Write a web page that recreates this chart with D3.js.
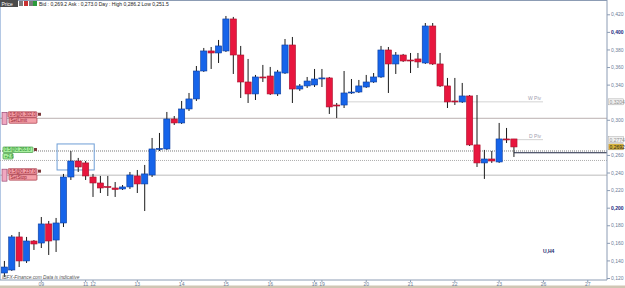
<!DOCTYPE html>
<html>
<head>
<meta charset="utf-8">
<script src="https://cdn.jsdelivr.net/npm/d3@7"></script>
<style>
  html, body { margin: 0; padding: 0; background: #fff; }
  svg { display: block; font-family: "Liberation Sans", Arial, sans-serif; }
</style>
</head>
<body>
<svg id="chart" width="625" height="288"></svg>
<script>
// H4 candles, one per index (prices)
const opens = [0.1257,0.1291,0.1667,0.1394,0.1621,0.1598,0.1815,0.1632,0.1826,0.2349,
  0.2531,0.2509,0.2349,0.2281,0.2241,0.2224,0.2213,0.2236,0.2361,0.2270,
  0.2372,0.2662,0.2668,0.3009,0.2964,0.3123,0.3237,0.3555,0.3783,0.3760,
  0.3783,0.4147,0.3737,0.3430,0.3294,0.3487,0.3498,0.3294,0.3532,0.3851,
  0.3350,0.3385,0.3396,0.3470,0.3476,0.3168,0.3168,0.3311,0.3316,0.3373,
  0.3430,0.3487,0.3794,0.3635,0.3737,0.3680,0.3692,0.3646,0.4067,0.3635,
  0.3385,0.3214,0.3203,0.3271,0.2714,0.2509,0.2554,0.2520,0.2782,0.2782];
const highs = [0.1394,0.1689,0.1724,0.1667,0.1632,0.1894,0.1849,0.1883,0.2384,0.2645,
  0.2566,0.2531,0.2384,0.2361,0.2361,0.2292,0.2258,0.2406,0.2429,0.2486,
  0.2793,0.2850,0.3089,0.3043,0.3214,0.3305,0.3612,0.3817,0.3828,0.3908,
  0.4181,0.4170,0.3840,0.3692,0.3510,0.3624,0.3601,0.3567,0.3919,0.3942,
  0.3407,0.3487,0.3578,0.3578,0.3487,0.3191,0.3555,0.3464,0.3453,0.3510,
  0.3532,0.3840,0.3828,0.3771,0.3749,0.3760,0.3760,0.4101,0.4101,0.3760,
  0.3476,0.3476,0.3419,0.3282,0.3282,0.2657,0.2645,0.2964,0.2907,0.2782];
const lows = [0.1212,0.1280,0.1325,0.1371,0.1519,0.1541,0.1462,0.1496,0.1780,0.2315,
  0.2406,0.2315,0.2122,0.2167,0.2133,0.2122,0.2201,0.2213,0.2167,0.1962,
  0.2349,0.2645,0.2657,0.2941,0.2952,0.3100,0.3214,0.3544,0.3578,0.3646,
  0.3771,0.3521,0.3248,0.3191,0.3225,0.3430,0.3282,0.3271,0.3521,0.3191,
  0.3328,0.3362,0.3373,0.3373,0.3066,0.3020,0.3134,0.3294,0.3305,0.3362,
  0.3419,0.3476,0.3305,0.3521,0.3658,0.3532,0.3590,0.3635,0.3624,0.3373,
  0.3134,0.3168,0.3191,0.2702,0.2463,0.2327,0.2509,0.2509,0.2736,0.2577];
const closes = [0.1325,0.1667,0.1394,0.1621,0.1587,0.1815,0.1621,0.1826,0.2349,0.2531,
  0.2463,0.2361,0.2281,0.2224,0.2230,0.2207,0.2236,0.2372,0.2270,0.2384,
  0.2668,0.2674,0.3009,0.2964,0.3123,0.3237,0.3555,0.3783,0.3760,0.3840,
  0.4147,0.3737,0.3430,0.3294,0.3487,0.3481,0.3294,0.3544,0.3851,0.3350,
  0.3385,0.3441,0.3464,0.3476,0.3146,0.3163,0.3305,0.3316,0.3385,0.3430,
  0.3487,0.3794,0.3635,0.3737,0.3669,0.3675,0.3658,0.4067,0.3635,0.3385,
  0.3203,0.3203,0.3271,0.2714,0.2509,0.2554,0.2531,0.2782,0.2776,0.2691];

// date ticks (candle index where each day starts)
const dayLabels = ["09","11","12","13","14","15","16","18","19","20","21","22","23","26","27"];
const dayIndex = [5,11,12,18,24,30,36,42,43,49,55,61,67,73,79];
// 0,320 and 0,280 sit under the pivot boxes, so they are not printed
const priceTicks = [0.42,0.40,0.38,0.36,0.34,0.30,0.26,0.24,0.22,0.20,0.18,0.16,0.14,0.12];

// order levels and pivots
const orderLabels = ["0.5@0,302.0", "0.5@0,263.0", "0.5@0,237.0"];
const orderPrices = [0.3017, 0.2645, 0.2370];
const orderTags = ["SetLimit", "+2.6", "SetStop"];
const pivotNames = ["W Piv", "D Piv"];
const pivotPrices = [0.3204, 0.2774];
const pivotStart = [45.5, 66.5];
const bid = 0.2692;
const lastLine = 0.2625;

const W = 625, H = 288;
const plotRight = 607, plotBottom = 280;
const nSlots = 82;

const svg = d3.select("#chart");

const x = d3.scaleBand()
  .domain(d3.range(nSlots))
  .range([1.3, 1.3 + nSlots * 7.37])
  .paddingInner(0.16);
const y = d3.scaleLinear().domain([0.12, 0.42]).range([278, 14.3]);
const cx = i => x(i) + x.bandwidth() / 2;
const xi = v => 5 + v * x.step(); // fractional index -> px

// frame
svg.append("rect").attr("width", W).attr("height", H).attr("fill", "#fff");
svg.append("line").attr("x1", 0).attr("x2", plotRight).attr("y1", 0.5).attr("y2", 0.5)
  .attr("stroke", "#8c9cb4");
svg.append("line").attr("x1", 0.5).attr("x2", 0.5).attr("y1", 0).attr("y2", plotBottom)
  .attr("stroke", "#b4c8e4");
svg.append("rect").attr("x", 0).attr("y", 285.5).attr("width", W).attr("height", 2.5)
  .attr("fill", "#cfc6b4");

// horizontal levels
const lvl = svg.append("g");
lvl.append("line").attr("x1", 0).attr("x2", plotRight)
  .attr("y1", y(orderPrices[0])).attr("y2", y(orderPrices[0]))
  .attr("stroke", "#a89c9c").attr("stroke-width", 0.8);
lvl.append("line").attr("x1", 0).attr("x2", plotRight)
  .attr("y1", y(orderPrices[1])).attr("y2", y(orderPrices[1]))
  .attr("stroke", "#555").attr("stroke-width", 0.8).attr("stroke-dasharray", "1,1");
lvl.append("line").attr("x1", 0).attr("x2", plotRight)
  .attr("y1", y(0.2537)).attr("y2", y(0.2537))
  .attr("stroke", "#999").attr("stroke-width", 0.8).attr("stroke-dasharray", "1,1");
lvl.append("line").attr("x1", 0).attr("x2", plotRight)
  .attr("y1", y(orderPrices[2])).attr("y2", y(orderPrices[2]))
  .attr("stroke", "#aaa").attr("stroke-width", 0.8);

pivotPrices.forEach((p, k) => {
  lvl.append("line").attr("x1", xi(pivotStart[k])).attr("x2", 543)
    .attr("y1", y(p)).attr("y2", y(p)).attr("stroke", "#c8c8c8").attr("stroke-width", 0.8);
  lvl.append("text").attr("x", 541).attr("y", y(p) - 1.5).attr("text-anchor", "end")
    .attr("font-size", 5).attr("fill", "#a0a0b0").text(pivotNames[k]);
});

// blue box
svg.append("rect").attr("x", xi(7.05)).attr("y", y(0.2725))
  .attr("width", xi(12.08) - xi(7.05)).attr("height", y(0.2429) - y(0.2725))
  .attr("fill", "none").attr("stroke", "#6e9ed6").attr("stroke-width", 1);

// candles
const candles = d3.range(opens.length).map(i => ({
  i, o: opens[i], h: highs[i], l: lows[i], c: closes[i]
}));
const cg = svg.append("g");
cg.selectAll(".wick").data(candles).enter().append("line")
  .attr("x1", d => cx(d.i)).attr("x2", d => cx(d.i))
  .attr("y1", d => y(d.h)).attr("y2", d => y(d.l))
  .attr("stroke", "#1a1a1a").attr("stroke-width", 1);
cg.selectAll(".body").data(candles).enter().append("rect")
  .attr("x", d => x(d.i))
  .attr("y", d => y(Math.max(d.o, d.c)))
  .attr("width", x.bandwidth())
  .attr("height", d => Math.max(1, Math.abs(y(d.o) - y(d.c))))
  .attr("fill", d => d.c >= d.o ? "#1664ea" : "#e8163e")
  .attr("stroke", d => d.c >= d.o ? "#0c3c9c" : "#a8102c")
  .attr("stroke-width", 0.6);

// last price line
svg.append("line").attr("x1", cx(69)).attr("x2", plotRight)
  .attr("y1", y(lastLine)).attr("y2", y(lastLine))
  .attr("stroke", "#1c2440").attr("stroke-width", 1.2);

// right axis
const yAxis = d3.axisRight(y).tickValues(priceTicks).tickSize(3)
  .tickFormat(d => "0," + String(Math.round(d * 1000)).padStart(3, "0"));
const ya = svg.append("g").attr("transform", `translate(${plotRight},0)`).call(yAxis);
ya.select(".domain").attr("stroke", "#8c9cb4").attr("d", `M0,0V${plotBottom}`);
ya.selectAll(".tick line").attr("stroke", "#8c9cb4");
ya.selectAll(".tick text").attr("font-size", 5).attr("x", 4)
  .attr("fill", d => (Math.abs(d - 0.4) < 1e-6 || Math.abs(d - 0.2) < 1e-6) ? "#1a2a80" : "#6c7c98")
  .attr("font-weight", d => (Math.abs(d - 0.4) < 1e-6 || Math.abs(d - 0.2) < 1e-6) ? "bold" : "normal");

// right axis price boxes
function priceBox(p, txt, fill, col) {
  svg.append("rect").attr("x", 608.5).attr("y", y(p) - 3).attr("width", 15).attr("height", 6)
    .attr("fill", fill).attr("stroke", "#9a9a9a").attr("stroke-width", 0.4);
  svg.append("text").attr("x", 609.5).attr("y", y(p) + 2).attr("font-size", 5)
    .attr("fill", col).text(txt);
}
priceBox(pivotPrices[0], "0,3204", "#f0f0f0", "#909090");
priceBox(pivotPrices[1], "0,2774", "#f0f0f0", "#909090");
priceBox(bid, "0,2692", "#d8b43a", "#202020");

// bottom axis
const xAxis = d3.axisBottom(x).tickValues(dayIndex).tickSize(2)
  .tickFormat(d => dayLabels[dayIndex.indexOf(d)]);
const xa = svg.append("g").attr("transform", `translate(0,${plotBottom})`).call(xAxis);
xa.select(".domain").attr("stroke", "#8c9cb4").attr("d", `M0,0H${plotRight}`);
xa.selectAll(".tick line").attr("stroke", "#8c9cb4");
xa.selectAll(".tick text").attr("font-size", 5).attr("y", 2).attr("fill", "#6c7c98");

// order tags on the left
function tag(yy, w, txt, fill, stroke) {
  svg.append("rect").attr("x", yy[0]).attr("y", yy[1]).attr("width", w).attr("height", 5.5)
    .attr("fill", fill).attr("stroke", stroke).attr("stroke-width", 0.6).attr("rx", 0.8);
  svg.append("text").attr("x", yy[0] + 1.5).attr("y", yy[1] + 4.4).attr("font-size", 4.6)
    .attr("fill", stroke).text(txt);
}
orderPrices.forEach((p, k) => {
  const yy = y(p);
  if (k === 1) {
    tag([3, yy - 4], 30, orderLabels[k], "#a8f0a0", "#2c8a2c");
    tag([3, yy + 2.5], 10, orderTags[k], "#a8f0a0", "#2c8a2c");
    svg.append("rect").attr("x", 34).attr("y", yy - 3).attr("width", 3).attr("height", 3).attr("fill", "#7a3a3a");
  } else {
    svg.append("rect").attr("x", 2).attr("y", yy - 6).attr("width", 5).attr("height", 12)
      .attr("fill", "#f0a8c0").attr("stroke", "#8a3a6a").attr("stroke-width", 0.6);
    tag([8, yy - 6.5], 29, orderLabels[k], "#f4a0a8", "#9a2030");
    tag([9, yy - 0.5], 28, orderTags[k], "#f4a0a8", "#9a2030");
    svg.append("rect").attr("x", 38).attr("y", yy - 5.5).attr("width", 3).attr("height", 3).attr("fill", "#7a3a3a");
  }
});

// header bar
svg.append("rect").attr("x", 0).attr("y", 0).attr("width", 18).attr("height", 7).attr("fill", "#4a4a4a");
svg.append("text").attr("x", 1.5).attr("y", 5.5).attr("font-size", 5).attr("fill", "#fff").text("Price");
[["#7a7a7a", 19], ["#c83030", 24], ["#7a7a7a", 29], ["#2a9a3a", 33]].forEach(([c, xx]) => {
  svg.append("rect").attr("x", xx).attr("y", 1).attr("width", 4).attr("height", 5).attr("fill", c);
});
svg.append("text").attr("x", 39).attr("y", 5.5).attr("font-size", 5).attr("fill", "#222")
  .text("Bid : 0,269.2 Ask : 0,273.0  Day : High 0,286.2 Low 0,251.5");

// footer texts
svg.append("text").attr("x", 2).attr("y", 279).attr("font-size", 4.8).attr("fill", "#555")
  .attr("font-style", "italic").text("IBFX-Finance.com  Data is indicative");
svg.append("text").attr("x", 543).attr("y", 253).attr("font-size", 5).attr("font-weight", "bold")
  .attr("fill", "#1a2a70").text("U,H4");
</script>
</body>
</html>
